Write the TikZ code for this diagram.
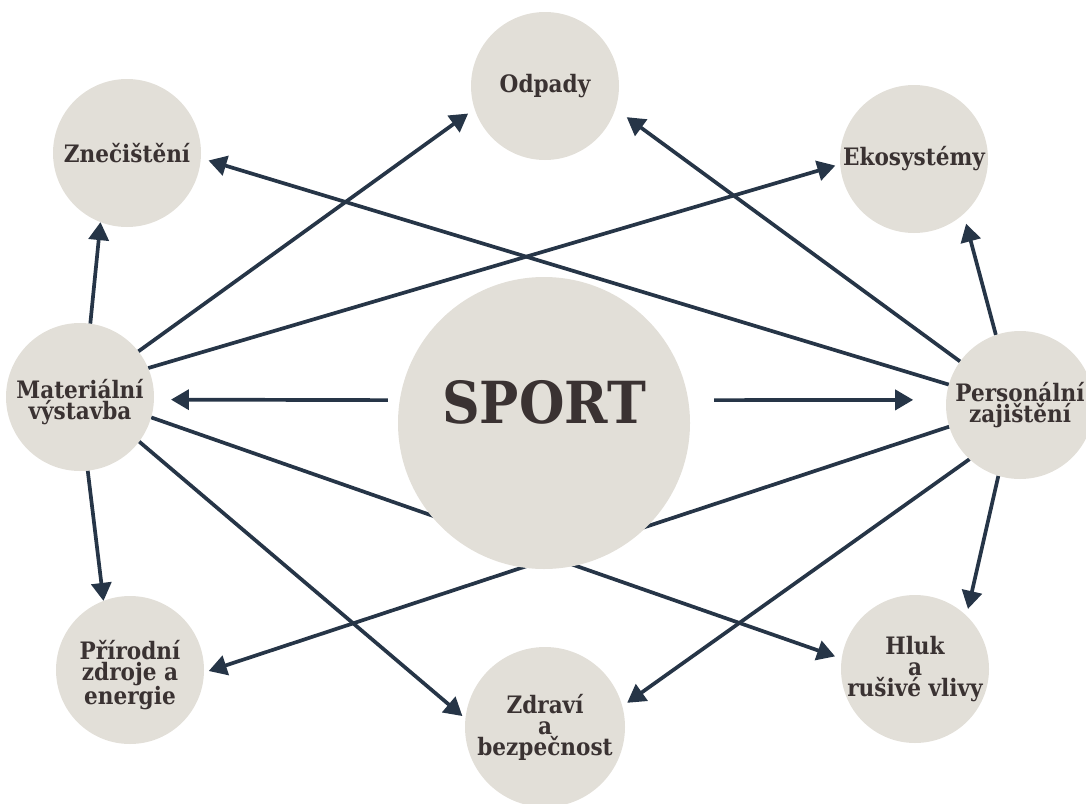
\documentclass[tikz,border=0pt]{standalone}
\usepackage{fontspec}
\setmainfont{DejaVu Serif Condensed}
\usetikzlibrary{arrows.meta,backgrounds}
\definecolor{bubblegrey}{HTML}{E2DFD8}
\definecolor{arrowblue}{HTML}{263547}
\definecolor{ink}{HTML}{3A3232}
\tikzset{
  bubble/.style={circle, fill=bubblegrey, inner sep=-5pt, outer sep=0pt, minimum size=148pt,
    align=center, text=ink, font=\fontsize{24}{21}\selectfont\bfseries},
  link/.style={-{Triangle[length=18pt,width=20pt]}, line width=3.7pt, draw=arrowblue},
}
\begin{document}
\begin{tikzpicture}[x=1pt,y=-1pt]
  \useasboundingbox (0,0) rectangle (1086,803);
  % centre
  \node[bubble, minimum size=292pt, text depth=42pt, font=\fontsize{58}{58}\selectfont\bfseries] (sport) at (544,423) {SPORT};
  % outer ring
  \node[bubble] (odp) at (545,86) {Odpady};
  \node[bubble] (zne) at (127,153) {Znečištění};
  \node[bubble] (eko) at (914,159) {Ekosystémy};
  \node[bubble, text height=50pt] (mat) at (80,397) {Materiální\\výstavba};
  \node[bubble] (per) at (1020,405) {Personální\\zajištění};
  \node[bubble, text height=75pt] (pri) at (130,670) {Přírodní\\zdroje a\\energie};
  \node[bubble, minimum size=160pt] (zdr) at (545,727) {Zdraví\\a\\bezpečnost};
  \node[bubble] (hluk) at (915,669) {Hluk\\a\\rušivé vlivy};
  \begin{pgfonlayer}{background}
    \draw[link, shorten <=12pt, shorten >=17pt] (sport.171) -- (mat.-2);
    \draw[link, shorten <=26pt, shorten >=33pt] (sport.9) -- (per.176);
    % from Materiální výstavba
    \draw[link] (mat.82) -- (zne.-111);
    \draw[link, shorten >=8pt] (mat.38) -- (odp.198);
    \draw[link, shorten >=5pt] (mat.23) -- (eko.184);
    \draw[link] (mat.-84) -- (pri.111);
    \draw[link, shorten >=4pt] (mat.-37) -- (zdr.174);
    \draw[link, shorten >=7pt] (mat.-16) -- (hluk.172);
    % from Personální zajištění
    \draw[link, shorten >=10pt] (per.109) -- (eko.-48);
    \draw[link, shorten >=14pt] (per.144) -- (odp.-18);
    \draw[link, shorten >=8pt] (per.164) -- (zne.-4);
    \draw[link, shorten >=5pt] (per.-163) -- (pri.-2);
    \draw[link, shorten >=6pt] (per.-133) -- (zdr.15);
    \draw[link, shorten >=7pt] (per.-107) -- (hluk.46);
  \end{pgfonlayer}
\end{tikzpicture}
\end{document}
